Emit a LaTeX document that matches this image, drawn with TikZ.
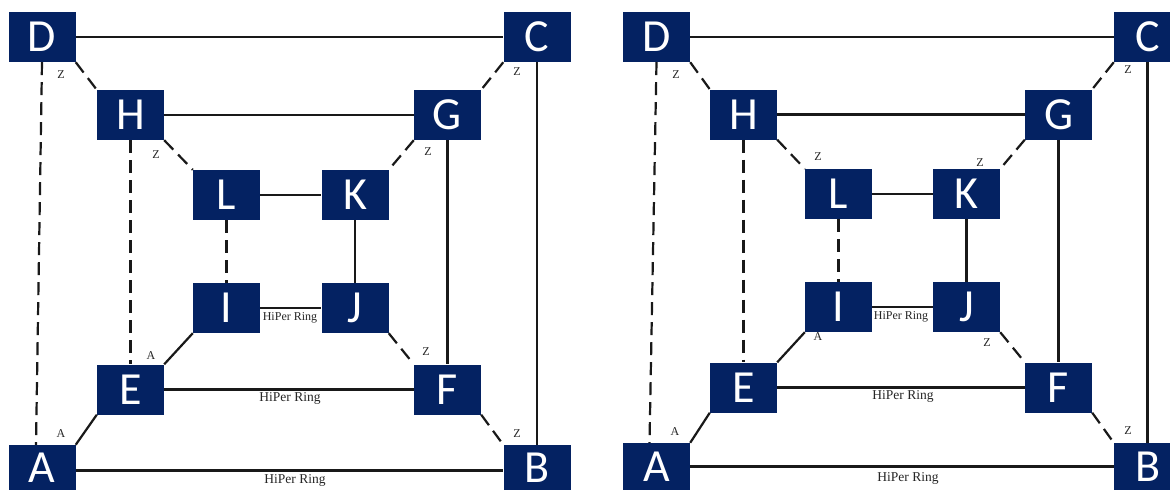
\documentclass[tikz,border=0pt]{standalone}
\usepackage{fontspec}
\setmainfont{Liberation Serif}
\newfontfamily\boxfont{Carlito}
\usetikzlibrary{positioning}

\definecolor{switchblue}{RGB}{4,34,98}

\begin{document}
\begin{tikzpicture}[
    x=1pt,y=-1pt,
    switchbox/.style={
        rectangle,
        fill=switchblue,
        inner sep=0pt,
        minimum width=67pt,
        minimum height=50pt,
        text=white,
        font=\boxfont\fontsize{46}{46}\selectfont,
        text height=29.5pt,
        text depth=0pt
    },
    edgebox/.style={switchbox,minimum height=#1},
    ring/.style={line width=2.2pt,black!90},
    link/.style={line width=2.2pt,black!90,dash pattern=on 13pt off 7pt},
    tag/.style={font=\fontsize{12}{12}\selectfont,text=black!85,inner sep=0pt},
    ringtag/.style={font=\fontsize{13.5}{13.5}\selectfont,text=black!85,inner sep=0pt}
]
\clip (0,0) rectangle (1170,490);
\fill[white] (0,0) rectangle (1170,490);

% ---------------- left panel ----------------
% outer ring (bottom boxes run into the lower edge)
\node[switchbox] (lD) at (42,37) {D};
\node[switchbox] (lC) at (537,37) {C};
\node[edgebox=45pt] (lA) at (42,467.5) {A};
\node[edgebox=45pt] (lB) at (537,467.5) {B};

% middle ring
\node[switchbox] (lH) at (130.5,115) {H};
\node[switchbox] (lG) at (447.5,115) {G};
\node[switchbox] (lE) at (130.5,389.5) {E};
\node[switchbox] (lF) at (447.5,389.5) {F};

% inner ring
\node[switchbox] (lL) at (226.5,195) {L};
\node[switchbox] (lK) at (355,195) {K};
\node[switchbox] (lI) at (226.5,308) {I};
\node[switchbox] (lJ) at (355,308) {J};

% ring links
\draw[ring] (lD) -- (lC);
\draw[ring] (lH) -- (lG);
\draw[ring] (lL) -- (lK);
\draw[ring] (lI) -- (lJ);
\draw[ring] (lE) -- (lF);
\draw[ring] ([yshift=-3pt]lA.east) -- ([yshift=-3pt]lB.west);
\draw[ring] (lK) -- (lJ);
\draw[ring] (lG) -- (lF);
\draw[ring] (lC) -- (lB);
\draw[link] (lD.south) -- ([xshift=-6pt]lA.north);
\draw[link] (lH) -- (lE);
\draw[link] (lL) -- (lI);

% couplings between the rings
\draw[link] (lD.south east) -- (lH.north west);
\draw[link] (lH.south east) -- (lL.north west);
\draw[link] (lC.south west) -- (lG.north east);
\draw[link] (lG.south west) -- (lK.north east);
\draw[link] (lJ.south east) -- (lF.north west);
\draw[link] (lF.south east) -- (lB.north west);
\draw[ring] (lI.south west) -- (lE.north east);
\draw[ring] (lE.south west) -- (lA.north east);

% port labels
\node[tag] (lzDH) at (61,75) {Z};
\node[tag] (lzHL) at (156,155) {Z};
\node[tag] (lzCG) at (517,72) {Z};
\node[tag] (lzGK) at (428,152) {Z};
\node[tag] (lzJF) at (426,352) {Z};
\node[tag] (lzFB) at (517,434) {Z};
\node[tag] (laIE) at (151,356) {A};
\node[tag] (laEA) at (61,434) {A};
\node[tag] (lrIJ) at (290,318) {HiPer Ring};
\node[ringtag] (lrEF) at (290,398) {HiPer Ring};
\node[ringtag] (lrAB) at (295,480) {HiPer Ring};

% ---------------- right panel ----------------
% outer ring (bottom boxes run into the lower edge)
\node[switchbox] (rD) at (656.5,37) {D};
\node[switchbox] (rC) at (1147.5,37) {C};
\node[edgebox=47pt] (rA) at (656.5,466.5) {A};
\node[edgebox=47pt] (rB) at (1147.5,466.5) {B};

% middle ring
\node[switchbox] (rH) at (743.5,114.5) {H};
\node[switchbox] (rG) at (1058.5,114.5) {G};
\node[switchbox] (rE) at (743.5,387.5) {E};
\node[switchbox] (rF) at (1058.5,387.5) {F};

% inner ring
\node[switchbox] (rL) at (838.5,194) {L};
\node[switchbox] (rK) at (966.5,194) {K};
\node[switchbox] (rI) at (838.5,307) {I};
\node[switchbox] (rJ) at (966.5,307) {J};

% ring links
\draw[ring] (rD) -- (rC);
\draw[ring] (rH) -- (rG);
\draw[ring] (rL) -- (rK);
\draw[ring] (rI) -- (rJ);
\draw[ring] (rE) -- (rF);
\draw[ring] (rA) -- (rB);
\draw[ring] (rK) -- (rJ);
\draw[ring] (rG) -- (rF);
\draw[ring] (rC) -- (rB);
\draw[link] (rD.south) -- ([xshift=-7pt]rA.north);
\draw[link] (rH) -- (rE);
\draw[link] (rL) -- (rI);

% couplings between the rings
\draw[link] (rD.south east) -- (rH.north west);
\draw[link] (rH.south east) -- (rL.north west);
\draw[link] (rC.south west) -- (rG.north east);
\draw[link] (rG.south west) -- (rK.north east);
\draw[link] (rJ.south east) -- (rF.north west);
\draw[link] (rF.south east) -- (rB.north west);
\draw[ring] (rI.south west) -- (rE.north east);
\draw[ring] (rE.south west) -- (rA.north east);

% port labels
\node[tag] (rzDH) at (676,75) {Z};
\node[tag] (rzHL) at (818,157) {Z};
\node[tag] (rzCG) at (1128,70) {Z};
\node[tag] (rzGK) at (980,163) {Z};
\node[tag] (rzJF) at (987,343) {Z};
\node[tag] (rzFB) at (1128,431) {Z};
\node[tag] (raIE) at (818,337) {A};
\node[tag] (raEA) at (675,432) {A};
\node[tag] (rrIJ) at (901,317) {HiPer Ring};
\node[ringtag] (rrEF) at (903,396) {HiPer Ring};
\node[ringtag] (rrAB) at (908,478) {HiPer Ring};

\end{tikzpicture}
\end{document}
